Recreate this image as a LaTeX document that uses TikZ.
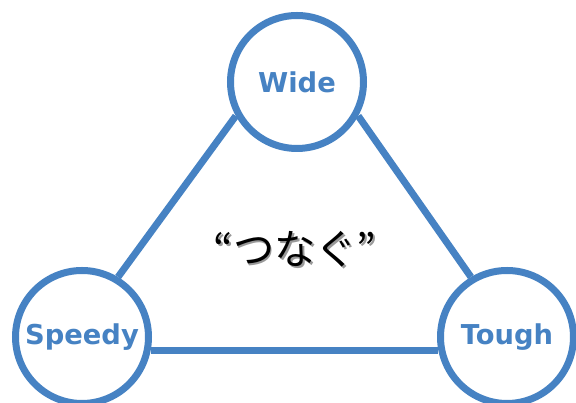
\documentclass[tikz,border=0pt]{standalone}
\usepackage{fontspec}
\setmainfont{DejaVu Sans}
\newfontfamily\jpfont{Noto Sans CJK JP}
\definecolor{ringblue}{HTML}{4682C3}
\tikzset{
  ring/.style={circle,draw=ringblue,line width=5.25pt,fill=white,
    minimum size=99.75pt,inner sep=0pt,text=ringblue,
    font=\fontsize{20.5}{24}\selectfont\bfseries},
  link/.style={draw=ringblue,line width=5.25pt}
}
\begin{document}
\begin{tikzpicture}[x=0.75pt,y=0.75pt]
  \useasboundingbox (0,0) rectangle (576,403);
  \node[ring] (wide) at (297,321) {Wide};
  \node[ring] (speedy) at (82,66) {Speedy};
  \node[ring] (tough) at (507,66) {Tough};
  % triangle sides
  \draw[link] (wide.209) -- (speedy.59);
  \draw[link] (wide.331) -- (tough.121);
  \draw[link] (speedy.-11) -- (tough.191);
  % centre word with soft shadow
  \node[text=black!40,font=\jpfont\fontsize{31}{36}\selectfont] (shadow) at (297,152) {“つなぐ”};
  \node[font=\jpfont\fontsize{31}{36}\selectfont] (tsunagu) at (295,154) {“つなぐ”};
\end{tikzpicture}
\end{document}
